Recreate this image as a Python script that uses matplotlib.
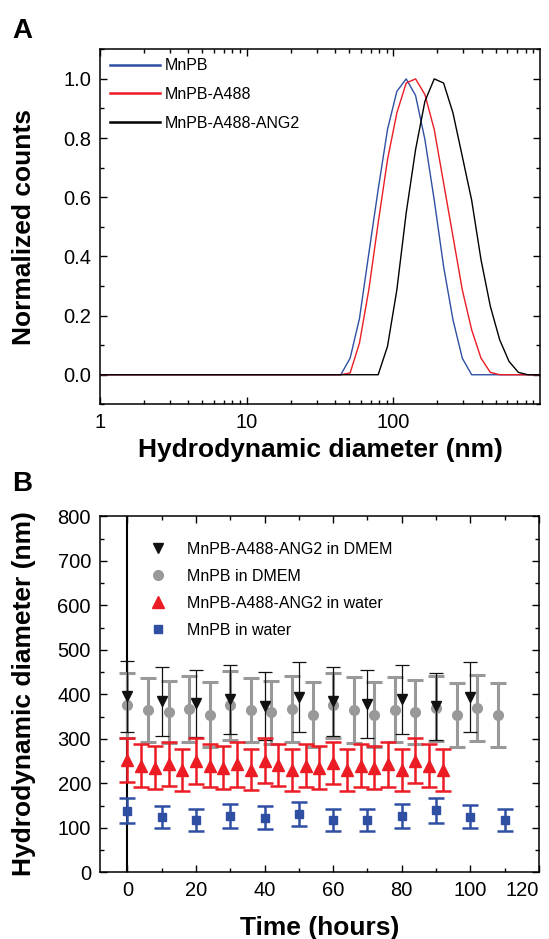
import matplotlib
matplotlib.use("Agg")
import matplotlib.pyplot as plt
from matplotlib.lines import Line2D
from matplotlib.ticker import MultipleLocator, LogLocator, NullFormatter, FixedLocator, FixedFormatter
import numpy as np

plt.rcParams['font.family'] = ['Liberation Sans', 'DejaVu Sans']

# ---- panel A : DLS size distributions ----
size_nm = [1.0, 43.82, 50.75, 58.77, 68.06, 78.82, 91.28, 105.7, 122.4, 141.8,
           164.2, 190.1, 220.2, 255.0, 295.3, 342.0, 396.1, 458.7, 531.2, 615.1,
           712.4, 825.0, 955.4, 1000.0]
mnpb = [0, 0, 0.056, 0.19, 0.41, 0.626, 0.829, 0.958, 1.0, 0.944,
        0.795, 0.59, 0.366, 0.186, 0.056, 0, 0, 0, 0, 0,
        0, 0, 0, 0]
mnpb_a488 = [0, 0, 0.006, 0.107, 0.287, 0.513, 0.727, 0.885, 0.986, 1.0,
             0.947, 0.829, 0.648, 0.468, 0.287, 0.152, 0.056, 0.008, 0, 0,
             0, 0, 0, 0]
mnpb_ang2 = [0, 0, 0, 0, 0, 0, 0.096, 0.287, 0.547, 0.761,
             0.924, 1.0, 0.986, 0.885, 0.738, 0.59, 0.389, 0.231, 0.118, 0.045,
             0.008, 0, 0, 0]

# ---- panel B : stability over time ----
t_ang2_dmem = [0, 10, 20, 30, 40, 50, 60, 70, 80, 90, 100]
d_ang2_dmem = [396, 384, 380, 389, 374, 394, 384, 379, 389, 373, 394]
e_ang2_dmem = [80, 77, 75, 78, 76, 79, 77, 76, 78, 76, 79]

t_mnpb_dmem = [0, 6, 12, 18, 24, 30, 36, 42, 48, 54, 60, 66, 72, 78, 84, 90, 96, 102, 108]
d_mnpb_dmem = [376, 365, 360, 367, 354, 375, 365, 360, 367, 354, 375, 364, 354, 365, 360, 369, 354, 369, 354]
e_mnpb_dmem = [73, 72, 70, 74, 73, 77, 72, 71, 74, 73, 72, 74, 73, 73, 72, 73, 72, 74, 72]

t_ang2_water = [0, 4, 8, 12, 16, 20, 24, 28, 32, 36, 40, 44, 48, 52, 56, 60, 64, 68, 72, 76, 80, 84, 88, 92]
d_ang2_water = [253, 240, 235, 244, 230, 250, 240, 235, 243, 231, 251, 241,
                230, 240, 235, 246, 230, 240, 235, 243, 230, 251, 240, 230]
e_ang2_water = [49, 49, 48, 50, 47, 51, 49, 48, 51, 46, 51, 48,
                47, 49, 48, 48, 47, 49, 48, 51, 47, 51, 49, 47]

t_mnpb_water = [0, 10, 20, 30, 40, 50, 60, 70, 80, 90, 100, 110]
d_mnpb_water = [138, 125, 118, 127, 123, 131, 118, 118, 127, 139, 125, 118]
e_mnpb_water = [28, 25, 25, 27, 26, 27, 25, 25, 27, 29, 26, 25]

blue = '#2f4fa3'
red = '#ec1c24'
gray = '#999999'

fig = plt.figure(figsize=(5.49, 9.39), dpi=100)
ax1 = fig.add_axes([0.1821, 0.5694, 0.8015, 0.3781])
ax2 = fig.add_axes([0.1821, 0.0710, 0.7996, 0.3791])

# panel A
ax1.plot(size_nm, mnpb, color=blue, lw=1.0, label='MnPB')
ax1.plot(size_nm, mnpb_a488, color=red, lw=1.0, label='MnPB-A488')
ax1.plot(size_nm, mnpb_ang2, color='k', lw=1.0, label='MnPB-A488-ANG2')
ax1.set_xscale('log')
ax1.set_xlim(1, 1000)
ax1.set_ylim(-0.1, 1.1)
ax1.xaxis.set_major_locator(FixedLocator([1, 10, 100]))
ax1.xaxis.set_major_formatter(FixedFormatter(['1', '10', '100']))
ax1.xaxis.set_minor_locator(LogLocator(base=10, subs=np.arange(2, 10)))
ax1.xaxis.set_minor_formatter(NullFormatter())
ax1.yaxis.set_major_locator(MultipleLocator(0.2))
ax1.yaxis.set_minor_locator(MultipleLocator(0.1))
ax1.yaxis.set_major_formatter(plt.FuncFormatter(lambda v, p: '%.1f' % v))
ax1.set_xlabel('Hydrodynamic diameter (nm)', fontsize=19, fontweight='bold', labelpad=4.5)
leg1 = ax1.legend(loc='upper left', bbox_to_anchor=(0.023, 0.975), frameon=False, fontsize=11.5,
                  handlelength=3.13, handletextpad=0.31, labelspacing=0.86, borderpad=0.0,
                  borderaxespad=0.0)
for ln in leg1.get_lines():
    ln.set_linewidth(1.8)

# panel B
ax2.axvline(0, color='k', lw=1.5, zorder=1)
ax2.errorbar(t_mnpb_dmem, d_mnpb_dmem, yerr=e_mnpb_dmem, fmt='o', color=gray, ms=7,
             elinewidth=2.2, capsize=5.5, capthick=2.2, zorder=2)
ax2.errorbar(t_ang2_dmem, d_ang2_dmem, yerr=e_ang2_dmem, fmt='v', color='#111111', ms=7.5,
             elinewidth=0.9, capsize=5, capthick=0.9, zorder=3)
ax2.errorbar(t_ang2_water, d_ang2_water, yerr=e_ang2_water, fmt='^', color=red, ms=8,
             elinewidth=1.8, capsize=5.5, capthick=1.8, zorder=4)
ax2.errorbar(t_mnpb_water, d_mnpb_water, yerr=e_mnpb_water, fmt='s', color=blue, ms=6,
             elinewidth=1.8, capsize=5.5, capthick=1.8, zorder=4)
ax2.set_xlim(-8, 120)
ax2.set_ylim(0, 800)
ax2.xaxis.set_major_locator(MultipleLocator(20))
ax2.xaxis.set_minor_locator(MultipleLocator(10))
ax2.yaxis.set_major_locator(MultipleLocator(100))
ax2.yaxis.set_minor_locator(MultipleLocator(50))
ax2.set_xlabel('Time (hours)', fontsize=19, fontweight='bold', labelpad=11.5)

handles = [Line2D([], [], ls='none', marker='v', color='#111111', ms=7.5),
           Line2D([], [], ls='none', marker='o', color=gray, ms=7),
           Line2D([], [], ls='none', marker='^', color=red, ms=8),
           Line2D([], [], ls='none', marker='s', color=blue, ms=6)]
labels = ['MnPB-A488-ANG2 in DMEM', 'MnPB in DMEM', 'MnPB-A488-ANG2 in water', 'MnPB in water']
ax2.legend(handles, labels, loc='upper left', bbox_to_anchor=(0.096, 0.929), frameon=False,
           fontsize=11.5, handlelength=2.0, handletextpad=0.8, labelspacing=0.76,
           borderpad=0.0, borderaxespad=0.0)

for ax in (ax1, ax2):
    ax.tick_params(which='both', direction='in', top=True, right=True, labelsize=14.5, width=1.0)
    ax.tick_params(which='major', length=5)
    ax.tick_params(which='minor', length=3)
    ax.tick_params(axis='y', pad=6.5)
    ax.tick_params(axis='x', pad=6)
    for s in ax.spines.values():
        s.set_linewidth(1.1)

# keep the last time label inside the figure, as in the reference
fig.canvas.draw()
ax2.get_xticklabels()[-1].set_horizontalalignment('right')
for lab in ax2.get_xticklabels():
    if lab.get_text() == '120':
        lab.set_horizontalalignment('right')
        lab.set_x(lab.get_position()[0])

fig.text(24 / 549, 1 - 226.7 / 939, 'Normalized counts', fontsize=19, fontweight='bold',
         rotation=90, ha='center', va='center')
fig.text(24 / 549, 1 - 694 / 939, 'Hydrodynamic diameter (nm)', fontsize=19, fontweight='bold',
         rotation=90, ha='center', va='center')
fig.text(12 / 549, 1 - 31 / 939, 'A', fontsize=20, fontweight='bold', va='center', ha='left')
fig.text(12 / 549, 1 - 484 / 939, 'B', fontsize=20, fontweight='bold', va='center', ha='left')

fig.savefig('out.png', dpi=100)
